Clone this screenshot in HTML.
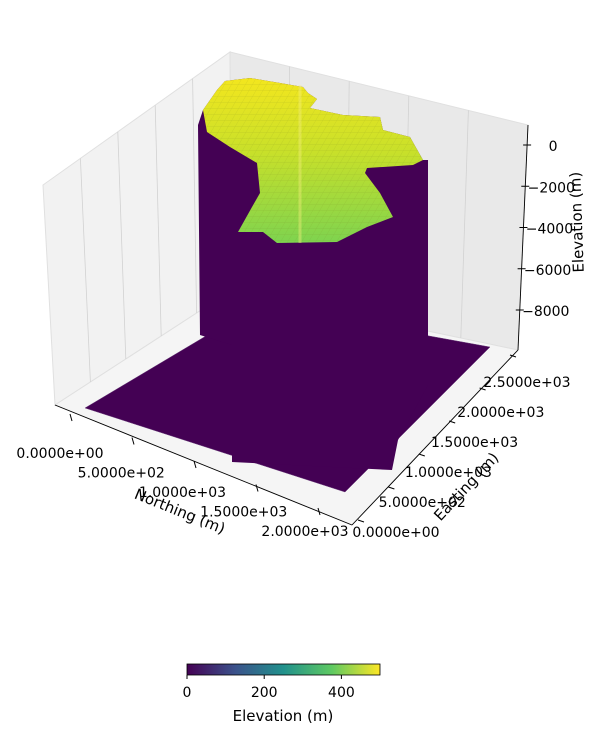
<!DOCTYPE html>
<html><head><meta charset="utf-8"><style>
body{margin:0;background:#fff;font-family:"Liberation Sans","DejaVu Sans",sans-serif}
</style></head><body>
<svg width="590" height="735" viewBox="0 0 590 735" xmlns="http://www.w3.org/2000/svg" font-family="DejaVu Sans, Liberation Sans, sans-serif" font-size="14">
<defs>
<linearGradient id="top" x1="0" y1="0" x2="0" y2="1"><stop offset="0" stop-color="#f3e61e"/><stop offset="0.45" stop-color="#c8e02a"/><stop offset="1" stop-color="#7ed34f"/></linearGradient>
<linearGradient id="vir" x1="0" y1="0" x2="1" y2="0"><stop offset="0" stop-color="#440154"/><stop offset="0.25" stop-color="#3b528b"/><stop offset="0.5" stop-color="#21918c"/><stop offset="0.75" stop-color="#5ec962"/><stop offset="1" stop-color="#fde725"/></linearGradient>
<pattern id="mesh" width="7" height="6" patternUnits="userSpaceOnUse" patternTransform="skewX(-30)"><path d="M0 0H7M0 0V6" stroke="#6a7a20" stroke-opacity="0.25" stroke-width="0.6" fill="none"/></pattern>
</defs>
<g id="panes">
<polygon points="43,185 230,52 232,290 55,405" fill="#f2f2f2" stroke="#e0e0e0"/>
<polygon points="230,52 528,125 518,350 232,290" fill="#e9e9e9" stroke="#e0e0e0"/>
<polygon points="55,405 232,290 518,350 352,525" fill="#f5f5f5" stroke="#e0e0e0"/>
</g>
<g id="grid" stroke="#d2d2d2" stroke-width="0.8" fill="none"></g>
<polygon points="85,408 258,305 490,347 345,492" fill="#440154" stroke="#6a3d7a" stroke-width="0.5"/>
<polygon fill="#440154" points="198,125 203,110 217,90 225,81 250,78 280,83 303,87 308,93 317,99 310,108 343,115 380,117 383,130 410,137 423,160 428,160 428,385 398,440 392,470 232,462 232,345 200,335"/>
<polygon fill="url(#top)" points="203,110 217,90 225,81 250,78 280,83 303,87 308,93 317,99 310,108 343,115 380,117 383,130 410,137 423,160 413,165 367,168 365,173 380,193 393,217 367,227 337,242 277,243 263,232 238,232 252,207 260,193 257,163 230,147 207,132"/>
<polygon fill="url(#mesh)" points="203,110 217,90 225,81 250,78 280,83 303,87 308,93 317,99 310,108 343,115 380,117 383,130 410,137 423,160 413,165 367,168 365,173 380,193 393,217 367,227 337,242 277,243 263,232 238,232 252,207 260,193 257,163 230,147 207,132"/>
<line x1="300" y1="85" x2="300" y2="243" stroke="#f8f080" stroke-opacity="0.4" stroke-width="3"/>
<g id="axes" stroke="#000" stroke-width="0.9" fill="none">
<line x1="55" y1="405" x2="352" y2="525"/><line x1="352" y1="525" x2="518" y2="350"/><line x1="528" y1="125" x2="518" y2="350"/>
</g>
<g id="nticks"></g>
<g id="eticks"></g>
<g id="zticks"></g>
<text x="178" y="516" transform="rotate(22 178 516)" text-anchor="middle" font-size="15">Northing (m)</text>
<text x="470" y="490" transform="rotate(-47 470 490)" text-anchor="middle" font-size="15">Easting (m)</text>
<text x="582" y="222" transform="rotate(-92 582 222)" text-anchor="middle" font-size="15">Elevation (m)</text>
<rect x="187" y="664" width="193" height="11" fill="url(#vir)" stroke="#000" stroke-width="0.8"/>
<g id="cticks"></g>
<text x="283" y="721" text-anchor="middle" font-size="15">Elevation (m)</text>
</svg>
<script>
const northTicks=["0.0000e+00","5.0000e+02","1.0000e+03","1.5000e+03","2.0000e+03"];
const eastTicks=["0.0000e+00","5.0000e+02","1.0000e+03","1.5000e+03","2.0000e+03","2.5000e+03"];
const zTicks=[0,-2000,-4000,-6000,-8000];
const cbTicks=[0,200,400];
const NS="http://www.w3.org/2000/svg";
function mk(t,a,p){const e=document.createElementNS(NS,t);for(const k in a)e.setAttribute(k,a[k]);p.appendChild(e);return e;}
const g=document.getElementById('grid');
for(let i=1;i<5;i++){const f=i/5;
 mk('line',{x1:43+(230-43)*f,y1:185+(52-185)*f,x2:55+(232-55)*f,y2:405+(290-405)*f},g);
 mk('line',{x1:230+(528-230)*f,y1:52+(125-52)*f,x2:232+(518-232)*f,y2:290+(350-290)*f},g);
}
const nt=document.getElementById('nticks');
northTicks.forEach((s,i)=>{const f=i*500/2000;const x=70+f*(318-70),y=418+f*(512-418);
 mk('line',{x1:x,y1:y-4,x2:x+2,y2:y+3,stroke:'#000'},nt);
 const t=mk('text',{x:60+f*245,y:458+f*78,'text-anchor':'middle'},nt);t.textContent=s;
 
 });
const et=document.getElementById('eticks');
eastTicks.forEach((s,i)=>{const f=i*500/2500;const x=358+f*(510-358),y=520+f*(355-520);
 mk('line',{x1:x,y1:y,x2:x+6,y2:y+2,stroke:'#000'},et);
 const t=mk('text',{x:396+f*131,y:537+f*(-150),'text-anchor':'middle'},et);t.textContent=s;
 
 });
const zt=document.getElementById('zticks');
function zy(v){return 145+(-v)/8000*(310-145);}
zTicks.forEach(v=>{const y=zy(v);const x=528-(y-125)/225*10;
 mk('line',{x1:x-4,y1:y,x2:x+4,y2:y,stroke:'#000'},zt);
 const t=mk('text',{x:x+26,y:y+6,'text-anchor':'middle'},zt);t.textContent=String(v).replace('-','\u2212');
 
 });
const ct=document.getElementById('cticks');
cbTicks.forEach(v=>{const x=187+v/500*193;
 mk('line',{x1:x,y1:675,x2:x,y2:679,stroke:'#000'},ct);
 const t=mk('text',{x:x,y:697,'text-anchor':'middle'},ct);t.textContent=v;
 
 });
</script>
</body></html>
